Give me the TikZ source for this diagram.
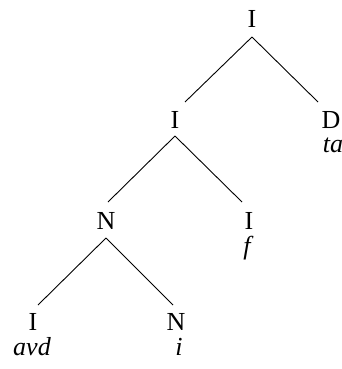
\documentclass[tikz,border=0pt]{standalone}
\usepackage{fontspec}
\setmainfont{Liberation Serif}
\begin{document}
\begin{tikzpicture}[x=1pt,y=-1pt,
  cat/.style={anchor=base,inner sep=0pt,font=\fontsize{26}{30}\selectfont},
  word/.style={anchor=base,inner sep=0pt,font=\fontsize{26}{30}\selectfont\itshape},
  edge/.style={line width=0.9pt,black}]
\useasboundingbox (0,0) rectangle (341,369);
% categories
\node[cat] (root) at (252,28) {I};
\node[cat] (mI) at (175,128) {I};
\node[cat] (D) at (331,128) {D};
\node[word] (ta) at (333,152) {ta};
\node[cat] (N) at (106,229) {N};
\node[cat] (If) at (249,229) {I};
\node[word] (f) at (247,254) {f};
\node[cat] (Ib) at (33,330) {I};
\node[word] (avd) at (32,355) {avd};
\node[cat] (Nb) at (176,330) {N};
\node[word] (i) at (179,355) {i};
% connector end points
\coordinate (root-s) at (252,37);
\coordinate (mI-n) at (185,102);
\coordinate (D-n) at (318,102);
\coordinate (mI-s) at (175,136);
\coordinate (N-n) at (108,202);
\coordinate (If-n) at (242,202);
\coordinate (N-s) at (106,238);
\coordinate (Ib-n) at (38,305);
\coordinate (Nb-n) at (173,305);
\draw[edge] (root-s) -- (mI-n);
\draw[edge] (root-s) -- (D-n);
\draw[edge] (mI-s) -- (N-n);
\draw[edge] (mI-s) -- (If-n);
\draw[edge] (N-s) -- (Ib-n);
\draw[edge] (N-s) -- (Nb-n);
\end{tikzpicture}
\end{document}
